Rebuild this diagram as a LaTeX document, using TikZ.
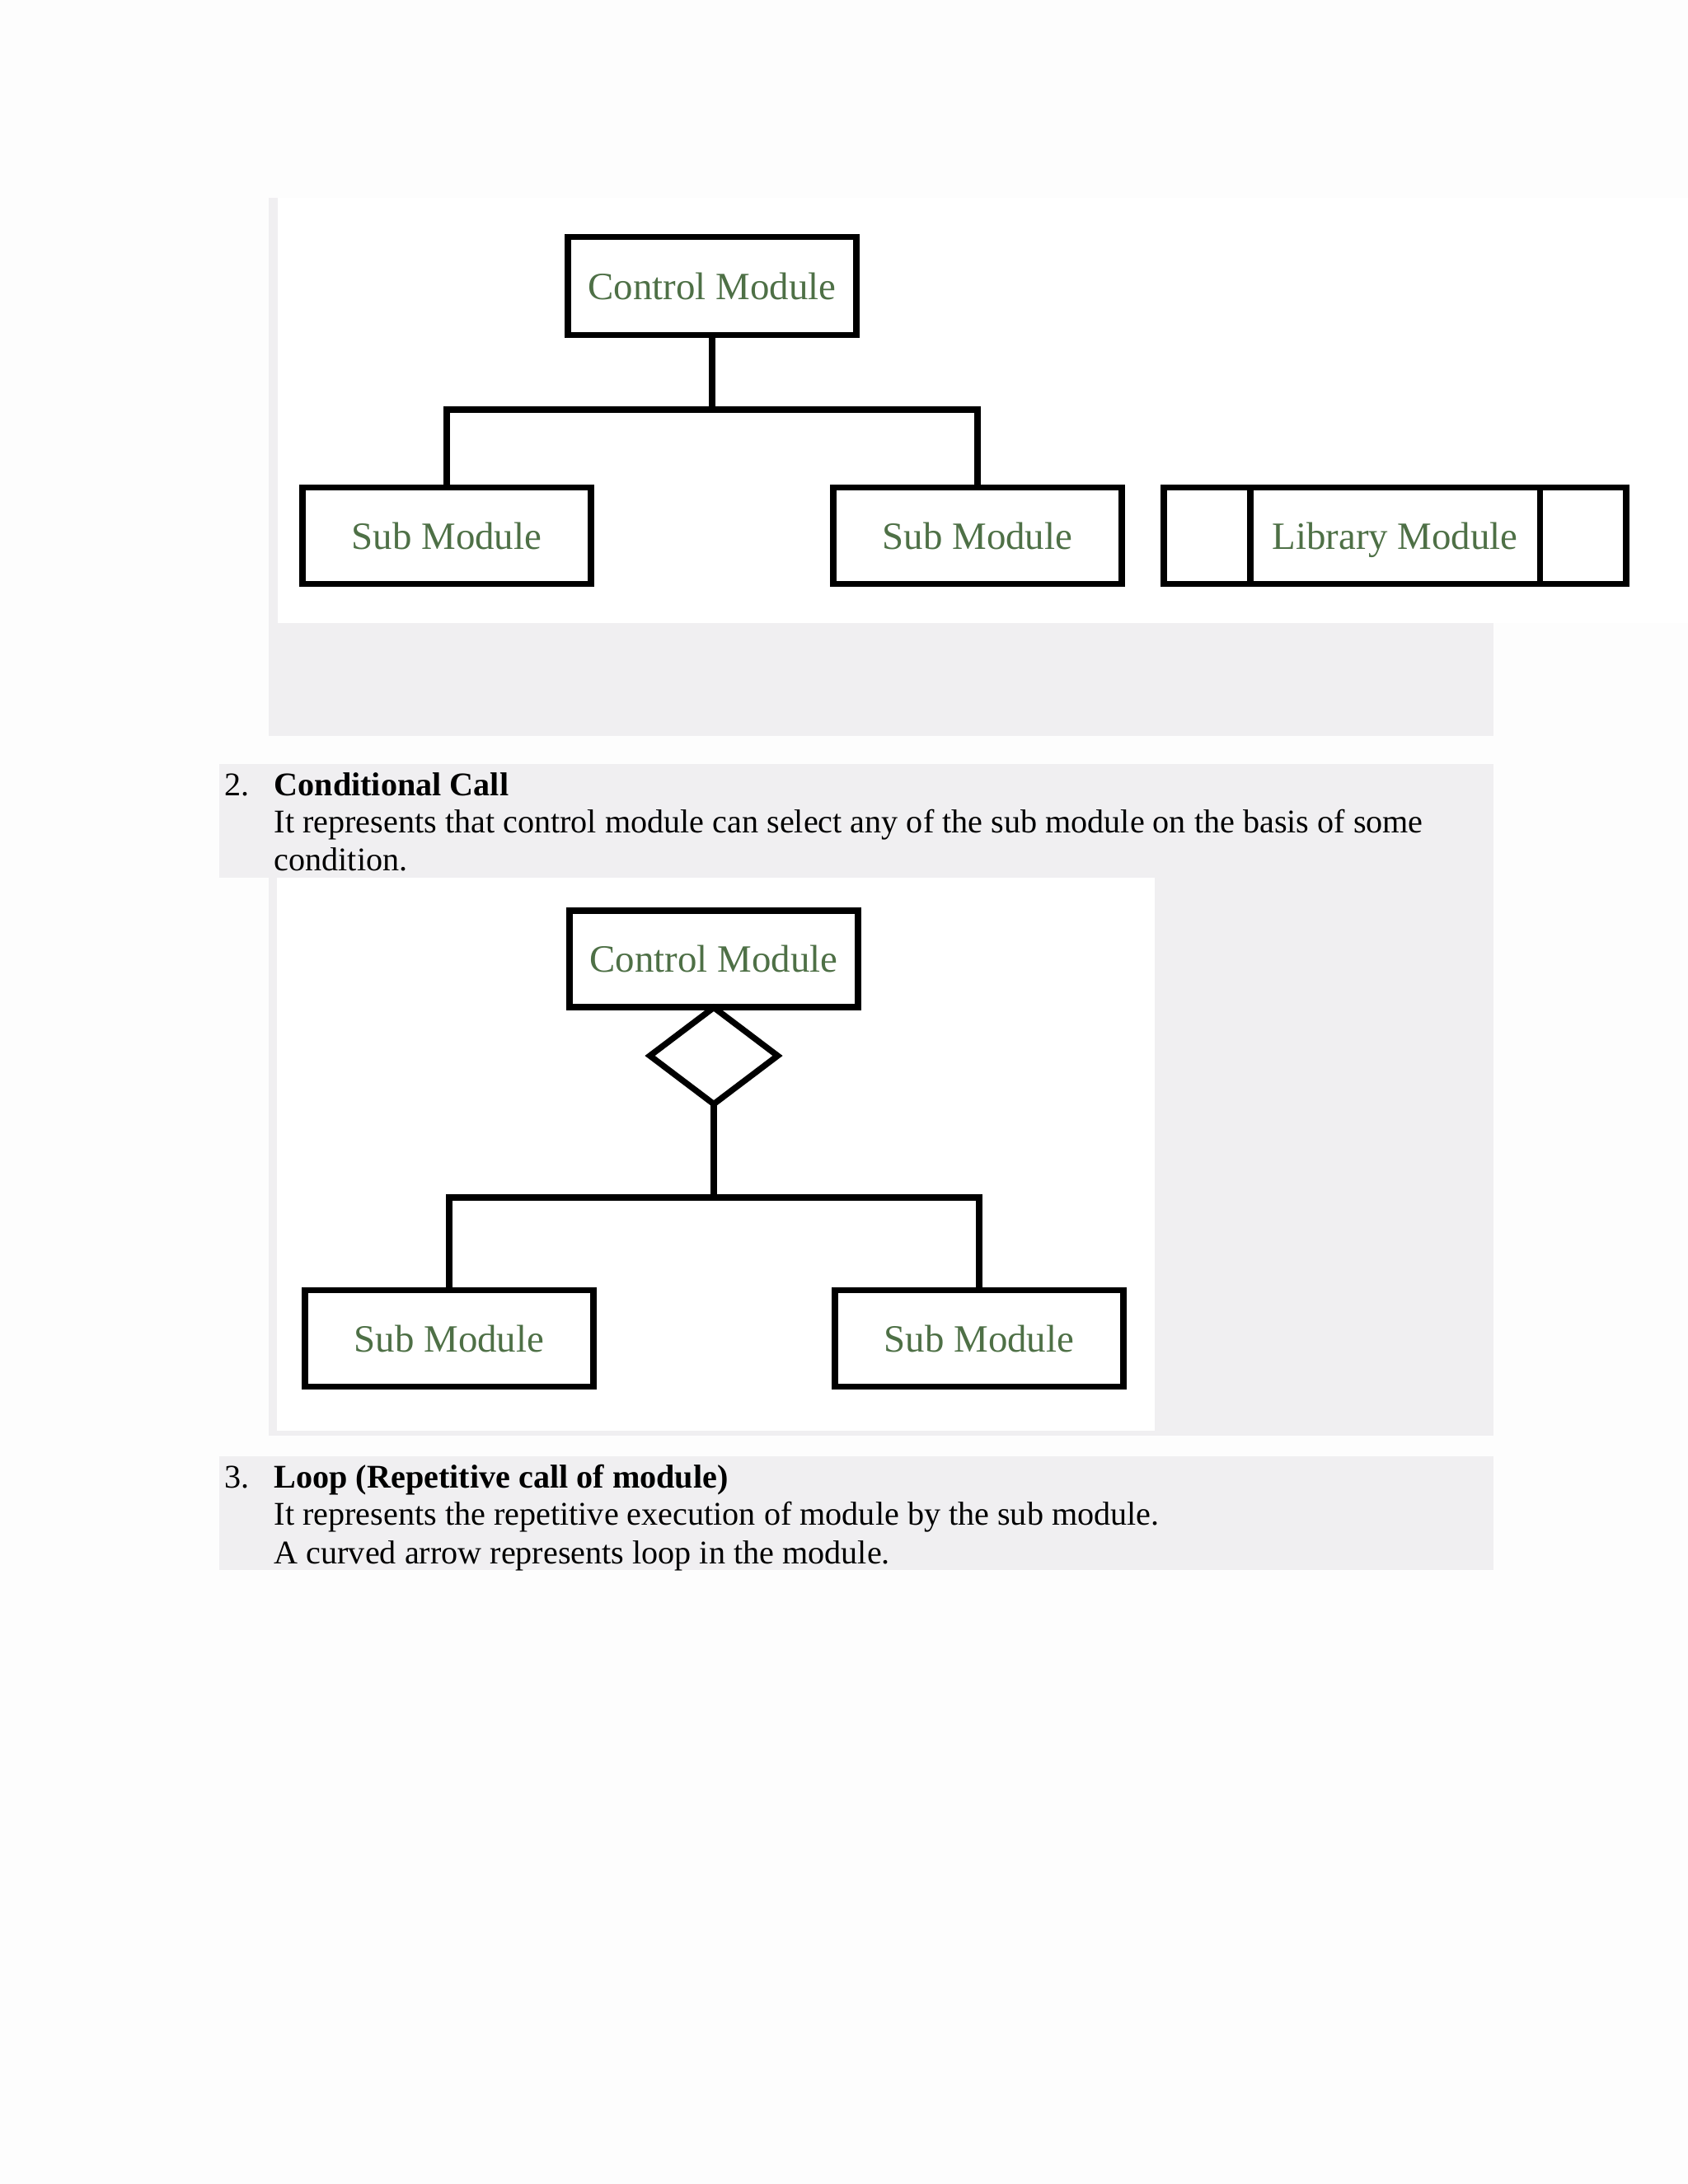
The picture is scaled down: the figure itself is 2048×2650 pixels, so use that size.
\documentclass[tikz,border=0pt]{standalone}
\usepackage{fontspec}
\setmainfont{Liberation Serif}
\usetikzlibrary{shapes.geometric}
\definecolor{pagebg}{RGB}{253,253,253}
\definecolor{panelgray}{RGB}{240,239,241}
\definecolor{labelgreen}{RGB}{78,112,70}
\tikzset{
	modbox/.style={draw=black, line width=2.2pt, fill=white, inner sep=0pt, outer sep=0pt, minimum width=104.5pt, minimum height=35pt, text height=12pt, text depth=2.2pt, text=labelgreen, font=\fontsize{14}{16}\selectfont},
	cond/.style={diamond, draw=black, line width=2.2pt, fill=white, inner sep=0pt, outer sep=0pt, minimum width=46.3pt, minimum height=35pt},
	link/.style={black, line width=2.2pt},
	txt/.style={anchor=base west, inner sep=0pt, font=\fontsize{12}{14}\selectfont}
}

\begin{document}
\begin{tikzpicture}[x=0.298828pt, y=-0.298828pt]
	\fill[pagebg] (0,0) rectangle (2048,2650);
	\useasboundingbox (0,0) rectangle (2048,2650);
	\fill[panelgray] (326,240) rectangle (1812,893);
	\fill[white] (337,240) rectangle (2048,756);
	\fill[panelgray] (266,927) rectangle (1812,1065);
	\fill[panelgray] (326,1065) rectangle (1812,1742);
	\fill[white] (336,1065) rectangle (1401,1736);
	\fill[panelgray] (266,1767) rectangle (1812,1905);

	\node[modbox, minimum height=35.6pt] (ctl1) at (864,347) {Control Module};
	\node[modbox] (sub1a) at (542,650) {Sub Module};
	\node[modbox] (sub1b) at (1186,650) {Sub Module};
	\node[modbox, minimum width=167.6pt] (lib) at (1692.5,650) {Library Module};
	\draw[link] ([xshift=31.4pt]lib.north west) -- ([xshift=31.4pt]lib.south west);
	\draw[link] ([xshift=-31.2pt]lib.north east) -- ([xshift=-31.2pt]lib.south east);
	\coordinate (bus1) at (864,497);
	\draw[link] (ctl1.south) -- (bus1);
	\draw[link] (sub1a.north) |- (bus1) -| (sub1b.north);

	\node[txt] (n2) at (272,965) {2.};
	\node[txt] (h2) at (332,965) {\textbf{Conditional Call}};
	\node[txt] (l2a) at (332,1010) {It represents that control module can select any of the sub module on the basis of some};
	\node[txt] (l2b) at (332,1056) {condition.};

	\node[modbox] (ctl2) at (866,1163.5) {Control Module};
	\node[cond] (dia) at (866,1281) {};
	\node[modbox] (sub2a) at (545,1624) {Sub Module};
	\node[modbox] (sub2b) at (1188,1624) {Sub Module};
	\coordinate (bus2) at (866,1453);
	\draw[link] (dia.south) -- (bus2);
	\draw[link] (sub2a.north) |- (bus2) -| (sub2b.north);

	\node[txt] (n3) at (272,1805) {3.};
	\node[txt] (h3) at (332,1805) {\textbf{Loop (Repetitive call of module)}};
	\node[txt] (l3a) at (332,1850) {It represents the repetitive execution of module by the sub module.};
	\node[txt] (l3b) at (332,1897) {A curved arrow represents loop in the module.};
\end{tikzpicture}
\end{document}
